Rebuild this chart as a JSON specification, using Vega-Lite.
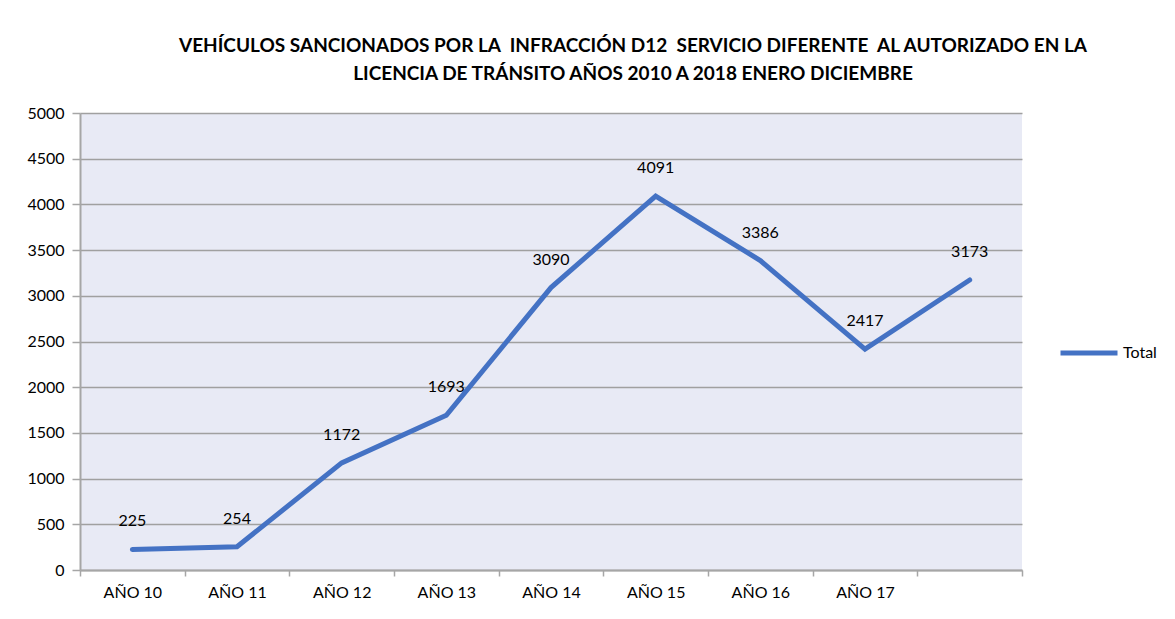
{
  "$schema": "https://vega.github.io/schema/vega-lite/v6.json",
  "autosize": {"type": "none"},
  "width": 942,
  "height": 457,
  "padding": {"left": 80, "top": 113, "right": 153, "bottom": 49},
  "background": "white",
  "title": {
    "text": ["VEHÍCULOS SANCIONADOS POR LA \u00a0INFRACCIÓN D12 \u00a0SERVICIO DIFERENTE \u00a0AL AUTORIZADO EN LA", "LICENCIA DE TRÁNSITO AÑOS 2010 A 2018 ENERO DICIEMBRE"],
    "font": "Lato",
    "fontSize": 19,
    "fontWeight": "bold",
    "color": "#000000",
    "lineHeight": 28,
    "offset": 21,
    "anchor": "middle",
    "dx": 82
  },
  "config": {
    "view": {"fill": "#E8EAF5", "stroke": null},
    "font": "Lato"
  },
  "data": {
    "values": [
      {"anio": "AÑO 10", "total": 225},
      {"anio": "AÑO 11", "total": 254},
      {"anio": "AÑO 12", "total": 1172},
      {"anio": "AÑO 13", "total": 1693},
      {"anio": "AÑO 14", "total": 3090},
      {"anio": "AÑO 15", "total": 4091},
      {"anio": "AÑO 16", "total": 3386},
      {"anio": "AÑO 17", "total": 2417},
      {"anio": "AÑO 18", "total": 3173}
    ]
  },
  "encoding": {
    "x": {
      "field": "anio",
      "type": "nominal",
      "sort": null,
      "scale": {"type": "band", "paddingInner": 0, "paddingOuter": 0},
      "axis": {
        "title": null,
        "labelAngle": 0,
        "labelFont": "Lato",
        "labelFontSize": 16,
        "labelColor": "#000000",
        "labelPadding": 8,
        "tickBand": "extent",
        "tickSize": 6,
        "tickColor": "#A6A6A6",
        "tickWidth": 1.5,
        "domainColor": "#A6A6A6",
        "domainWidth": 2,
        "grid": false,
        "labelExpr": "datum.label == 'AÑO 18' ? '' : datum.label"
      }
    },
    "y": {
      "field": "total",
      "type": "quantitative",
      "scale": {"domain": [0, 5000], "nice": false},
      "axis": {
        "title": null,
        "format": "d",
        "values": [0, 500, 1000, 1500, 2000, 2500, 3000, 3500, 4000, 4500, 5000],
        "labelFont": "Lato",
        "labelFontSize": 16,
        "labelColor": "#000000",
        "labelPadding": 8,
        "tickSize": 8,
        "tickColor": "#A6A6A6",
        "tickWidth": 1.5,
        "domainColor": "#A6A6A6",
        "domainWidth": 2,
        "grid": true,
        "gridColor": "#A0A0A0",
        "gridWidth": 1.5
      }
    }
  },
  "layer": [
    {
      "mark": {"type": "line", "strokeWidth": 5, "strokeCap": "round", "strokeJoin": "miter"},
      "encoding": {
        "color": {
          "datum": "Total",
          "scale": {"range": ["#4472C4"]},
          "legend": {
            "title": null,
            "orient": "none",
            "legendX": 978,
            "legendY": 209,
            "padding": 0,
            "symbolType": "stroke",
            "symbolSize": 3249,
            "symbolStrokeWidth": 5,
            "labelFont": "Lato",
            "labelFontSize": 16,
            "labelColor": "#000000",
            "labelOffset": 3
          }
        }
      }
    },
    {
      "mark": {"type": "text", "dy": -28, "fontSize": 16, "font": "Lato", "color": "#000000", "baseline": "middle"},
      "encoding": {"text": {"field": "total", "type": "quantitative", "format": "d"}}
    }
  ]
}
